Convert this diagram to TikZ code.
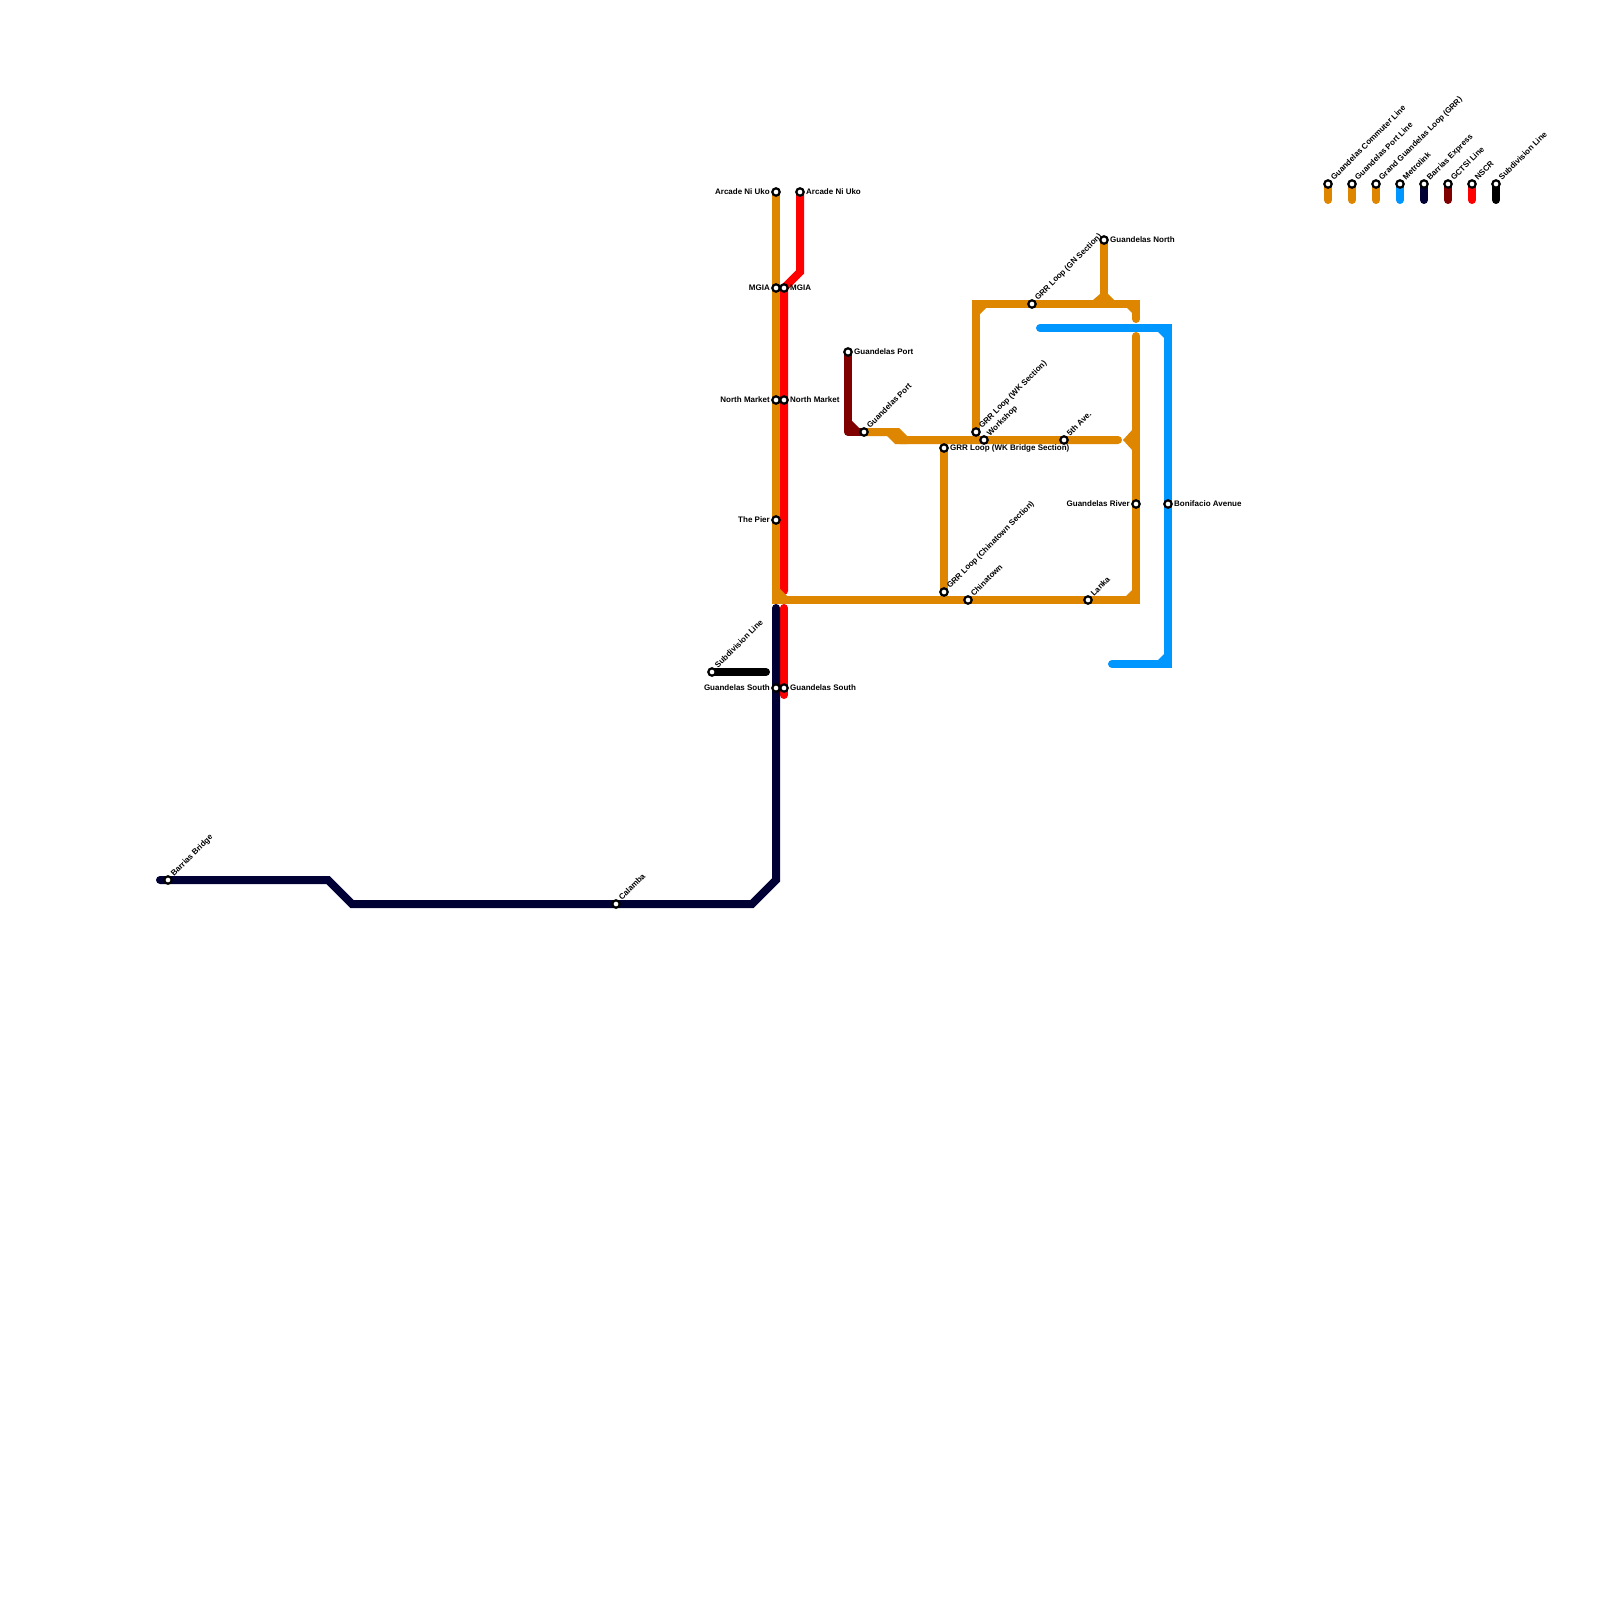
\documentclass[tikz,border=0pt]{standalone}
\usepackage{fontspec}
\setmainfont{Liberation Sans}
\definecolor{cOrange}{HTML}{DF8600}
\definecolor{cBlue}{HTML}{0096FF}
\definecolor{cNavy}{HTML}{000035}
\definecolor{cDark}{HTML}{800000}
\definecolor{cRed}{HTML}{FF0000}
\pgfdeclarelayer{lines}
\pgfsetlayers{lines,main}
\tikzset{
  stn/.style={circle,draw=black,line width=2.2pt,fill=white,inner sep=0pt,minimum size=7.4pt},
  lbl/.style={inner sep=0pt,font=\bfseries\fontsize{8pt}{9pt}\selectfont,text=black},
  lblR/.style={lbl,anchor=base west,xshift=6pt,yshift=-2.5pt},
  lblL/.style={lbl,anchor=base east,xshift=-6pt,yshift=-2.5pt},
  lblD/.style={lbl,anchor=base west,xshift=6pt,yshift=3.3pt,rotate=45},
  metro/.style={line width=8pt,line cap=round,line join=miter,miter limit=10},
}
\newcommand{\stR}[4]{\node[stn] (#1) at (#2,#3) {}; \node[lblR] (#1t) at (#1.center) {#4};}
\newcommand{\stL}[4]{\node[stn] (#1) at (#2,#3) {}; \node[lblL] (#1t) at (#1.center) {#4};}
\newcommand{\stD}[4]{\node[stn] (#1) at (#2,#3) {}; \node[lblD] (#1t) at (#1.center) {#4};}
\begin{document}
\begin{tikzpicture}[x=1pt,y=-1pt]
\useasboundingbox (0,0) rectangle (1600,1600);

% stations
\stL{oArcade}{776}{192}{Arcade Ni Uko}
\stL{oMgia}{776}{288}{MGIA}
\stL{oNorth}{776}{400}{North Market}
\stL{oPier}{776}{520}{The Pier}
\stL{nSouth}{776}{688}{Guandelas South}
\stL{oRiver}{1136}{504}{Guandelas River}
\stR{rArcade}{800}{192}{Arcade Ni Uko}
\stR{rMgia}{784}{288}{MGIA}
\stR{rNorth}{784}{400}{North Market}
\stR{rSouth}{784}{688}{Guandelas South}
\stR{dPort}{848}{352}{Guandelas Port}
\stR{oBridge}{944}{448}{GRR Loop (WK Bridge Section)}
\stR{oGNorth}{1104}{240}{Guandelas North}
\stR{bBonifacio}{1168}{504}{Bonifacio Avenue}
\stD{nBarrias}{168}{880}{Barrias Bridge}
\stD{nCalamba}{616}{904}{Calamba}
\stD{kSub}{712}{672}{Subdivision Line}
\stD{oPort}{864}{432}{Guandelas Port}
\stD{oWK}{976}{432}{GRR Loop (WK Section)}
\stD{oWorkshop}{984}{440}{Workshop}
\stD{oFifth}{1064}{440}{5th Ave.}
\stD{oGN}{1032}{304}{GRR Loop (GN Section)}
\stD{oChinaSec}{944}{592}{GRR Loop (Chinatown Section)}
\stD{oChina}{968}{600}{Chinatown}
\stD{oLanka}{1088}{600}{Lanka}
% legend
\stD{k1}{1328}{184}{Guandelas Commuter Line}
\stD{k2}{1352}{184}{Guandelas Port Line}
\stD{k3}{1376}{184}{Grand Guandelas Loop (GRR)}
\stD{k4}{1400}{184}{Metrolink}
\stD{k5}{1424}{184}{Barrias Express}
\stD{k6}{1448}{184}{GCTSI Line}
\stD{k7}{1472}{184}{NSCR}
\stD{k8}{1496}{184}{Subdivision Line}

% bends and free ends
\coordinate (c1) at (776,600);
\coordinate (c2) at (1136,600);
\coordinate (c3) at (1136,336);
\coordinate (c4) at (976,304);
\coordinate (c5) at (1136,304);
\coordinate (c6) at (1136,319);
\coordinate (c7) at (1104,304);
\coordinate (p1) at (893,432);
\coordinate (p2) at (901,440);
\coordinate (p3) at (1118,440);
\coordinate (r1) at (800,272);
\coordinate (r2) at (784,591);
\coordinate (r3) at (784,608);
\coordinate (r4) at (784,695);
\coordinate (n1) at (776,608);
\coordinate (n2) at (776,880);
\coordinate (n3) at (752,904);
\coordinate (n4) at (352,904);
\coordinate (n5) at (328,880);
\coordinate (n6) at (160,880);
\coordinate (b1) at (1040,328);
\coordinate (b2) at (1168,328);
\coordinate (b3) at (1168,664);
\coordinate (b4) at (1112,664);
\coordinate (d1) at (848,432);
\coordinate (k0) at (766,672);

\begin{pgfonlayer}{lines}
\fill[white] (0,0) rectangle (1600,1600);
% NSCR
\draw[metro,cRed] (rArcade.center) -- (r1) -- (rMgia.center) -- (rNorth.center) -- (r2);
\draw[metro,cRed] (r3) -- (rSouth.center) -- (r4);
% Barrias Express
\draw[metro,cNavy] (n1) -- (nSouth.center) -- (n2) -- (n3) -- (nCalamba.center) -- (n4) -- (n5) -- (nBarrias.center) -- (n6);
% Subdivision
\draw[metro,black] (kSub.center) -- (k0);
% GCTSI
\draw[metro,cDark,line join=round] (dPort.center) -- (d1) -- (oPort.center);
\fill[cDark] (852,421) -- (852,428) -- (859,428) -- cycle;
% Guandelas commuter and loop
\draw[metro,cOrange] (oArcade.center) -- (oMgia.center) -- (oNorth.center) -- (oPier.center) -- (c1) -- (oChina.center) -- (oLanka.center) -- (c2) -- (oRiver.center) -- (c3);
\draw[metro,cOrange] (oPort.center) -- (p1) -- (p2) -- (oWorkshop.center) -- (oFifth.center) -- (p3);
\draw[metro,cOrange] (oWK.center) -- (c4) -- (oGN.center) -- (c5) -- (c6);
\draw[metro,cOrange] (oGNorth.center) -- (c7);
\draw[metro,cOrange] (oBridge.center) -- (oChinaSec.center);
\fill[cOrange] (887,436) -- (887,428) -- (899,428) -- (907,436) -- (907,444) -- (895,444) -- cycle;
\fill[cOrange] (980,308) -- (986,308) -- (980,314) -- cycle;
\fill[cOrange] (1132,308) -- (1127,308) -- (1132,313) -- cycle;
\fill[cOrange] (1132,596) -- (1126,596) -- (1132,590) -- cycle;
\fill[cOrange] (780,589) -- (787,596) -- (780,596) -- cycle;
\fill[cOrange] (1100,294) -- (1093,300) -- (1100,300) -- cycle;
\fill[cOrange] (1108,294) -- (1114,300) -- (1108,300) -- cycle;
\fill[cOrange] (1123,440) -- (1133,429) -- (1133,451) -- cycle;
% Metrolink
\draw[metro,cBlue] (b1) -- (b2) -- (bBonifacio.center) -- (b3) -- (b4);
\fill[cBlue] (1164,332) -- (1158,332) -- (1164,338) -- cycle;
\fill[cBlue] (1164,660) -- (1158,660) -- (1164,654) -- cycle;
% legend
\foreach \n/\c in {k1/cOrange,k2/cOrange,k3/cOrange,k4/cBlue,k5/cNavy,k6/cDark,k7/cRed,k8/black}
  \draw[metro,\c] (\n.center) -- ++(0,16);
\end{pgfonlayer}
\end{tikzpicture}
\end{document}
